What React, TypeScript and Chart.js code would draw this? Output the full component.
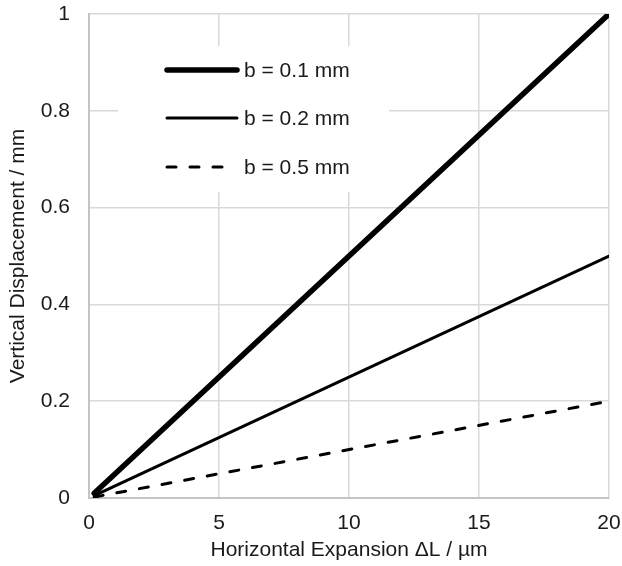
import React, { useEffect, useRef } from "react";
import { Chart, registerables } from "chart.js";

Chart.register(...registerables);

const xValues = [0.2, 20];
const seriesB01 = [0.01, 1.0];
const seriesB02 = [0.005, 0.5];
const seriesB05 = [0.002, 0.2];
const seriesLabels = ["b = 0.1 mm", "b = 0.2 mm", "b = 0.5 mm"];
const xTickValues = [0, 5, 10, 15, 20];
const yTickValues = [0, 0.2, 0.4, 0.6, 0.8, 1];

const FONT = "'Liberation Sans', Arial, sans-serif";
const TEXT = "#1a1a1a";
const FS = 21;

const legendPlugin = {
  id: "boxLegend",
  beforeDatasetsDraw(chart: any) {
    const ctx = chart.ctx;
    const area = chart.chartArea;
    const bx = area.left + 29;
    const by = area.top + 32;
    const bw = 271;
    const bh = 146;
    ctx.save();
    ctx.fillStyle = "#ffffff";
    ctx.fillRect(bx, by, bw, bh);
    ctx.restore();
  },
  afterDatasetsDraw(chart: any) {
    const ctx = chart.ctx;
    const area = chart.chartArea;
    const x0 = area.left + 78;
    const lineLen = 70;
    const rows = [area.top + 56, area.top + 104, area.top + 153];
    chart.data.datasets.forEach((ds: any, i: number) => {
      const y = rows[i];
      ctx.save();
      ctx.strokeStyle = ds.borderColor;
      ctx.lineWidth = ds.borderWidth;
      ctx.lineCap = "round";
      ctx.setLineDash(ds.borderDash || []);
      ctx.beginPath();
      ctx.moveTo(x0, y);
      ctx.lineTo(x0 + (ds.borderDash ? 60 : lineLen), y);
      ctx.stroke();
      ctx.restore();
      ctx.save();
      ctx.fillStyle = TEXT;
      ctx.font = `${FS}px ${FONT}`;
      ctx.textBaseline = "middle";
      ctx.textAlign = "left";
      ctx.fillText(ds.label, x0 + lineLen + 7, y + 1);
      ctx.restore();
    });
  },
};

export default function App() {
  const ref = useRef<HTMLCanvasElement | null>(null);

  useEffect(() => {
    if (!ref.current) return;
    const mk = (ys: number[]) => xValues.map((x, i) => ({ x, y: ys[i] }));
    const chart = new Chart(ref.current, {
      type: "line",
      data: {
        datasets: [
          {
            label: seriesLabels[0],
            data: mk(seriesB01),
            borderColor: "#000000",
            borderWidth: 5.5,
            pointRadius: 0,
            borderCapStyle: "round",
          },
          {
            label: seriesLabels[1],
            data: mk(seriesB02),
            borderColor: "#000000",
            borderWidth: 3,
            pointRadius: 0,
            borderCapStyle: "round",
          },
          {
            label: seriesLabels[2],
            data: mk(seriesB05),
            borderColor: "#000000",
            borderWidth: 3,
            pointRadius: 0,
            borderDash: [9, 14],
            borderCapStyle: "round",
          },
        ] as any,
      },
      options: {
        animation: false,
        responsive: false,
        maintainAspectRatio: false,
        layout: { padding: { top: 14, right: 13, left: 0, bottom: 0 } },
        plugins: {
          legend: { display: false },
          tooltip: { enabled: false },
        },
        scales: {
          x: {
            type: "linear",
            min: 0,
            max: 20,
            afterBuildTicks: (s: any) => {
              s.ticks = xTickValues.map((v) => ({ value: v }));
            },
            afterFit: (s: any) => {
              s.height = 68;
              s.paddingLeft = 0;
              s.paddingRight = 0;
            },
            grid: { color: "#d9d9d9", lineWidth: 1.5, drawTicks: false },
            border: { color: "#c4c4c4", width: 2 },
            ticks: {
              color: TEXT,
              font: { family: FONT, size: FS },
              padding: 13,
              maxRotation: 0,
            },
            title: {
              display: true,
              text: "Horizontal Expansion ΔL / µm",
              color: TEXT,
              font: { family: FONT, size: FS, lineHeight: 1 },
              padding: { top: 0, bottom: 5.5 },
            },
          },
          y: {
            type: "linear",
            min: 0,
            max: 1,
            afterBuildTicks: (s: any) => {
              s.ticks = yTickValues.map((v) => ({ value: v }));
            },
            afterFit: (s: any) => {
              s.width = 89;
              s.paddingTop = 0;
              s.paddingBottom = 0;
            },
            grid: { color: "#d9d9d9", lineWidth: 1.5, drawTicks: false },
            border: { color: "#c4c4c4", width: 2 },
            ticks: {
              color: TEXT,
              font: { family: FONT, size: FS },
              padding: 19,
              callback: (v: any) => String(v),
            },
            title: {
              display: true,
              text: "Vertical Displacement / mm",
              color: TEXT,
              font: { family: FONT, size: FS, lineHeight: 1 },
              padding: { top: 7.5, bottom: 0 },
            },
          },
        },
      } as any,
      plugins: [legendPlugin],
    });
    return () => chart.destroy();
  }, []);

  return (
    <div style={{ position: "absolute", left: 0, top: 0, width: 622, height: 566 }}>
      <canvas ref={ref} width={622} height={566} style={{ display: "block" }} />
    </div>
  );
}
